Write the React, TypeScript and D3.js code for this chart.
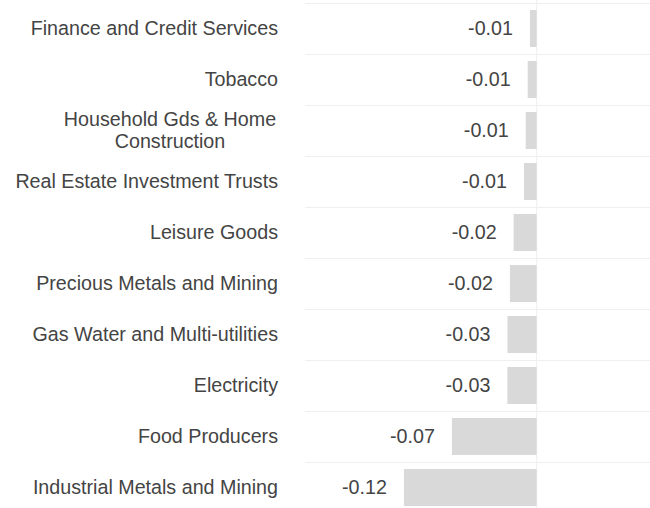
import React from "react";
import * as d3 from "d3";

const categories = [
  "Finance and Credit Services",
  "Tobacco",
  "Household Gds & Home Construction",
  "Real Estate Investment Trusts",
  "Leisure Goods",
  "Precious Metals and Mining",
  "Gas Water and Multi-utilities",
  "Electricity",
  "Food Producers",
  "Industrial Metals and Mining",
];
const values = [-0.0058, -0.0078, -0.0095, -0.011, -0.02, -0.0232, -0.0253, -0.0254, -0.0735, -0.1151];
const valueLabels = ["-0.01", "-0.01", "-0.01", "-0.01", "-0.02", "-0.02", "-0.03", "-0.03", "-0.07", "-0.12"];
const labelLines: Record<string, string[]> = {
  "Household Gds & Home Construction": ["Household Gds & Home", "Construction"],
};

const W = 650;
const H = 508;
const FONT = "'Liberation Sans', Arial, sans-serif";

export default function App() {
  const x = d3.scaleLinear().domain([-0.2, 0.1]).range([306, 652]);
  const y = d3
    .scaleBand<string>()
    .domain(categories)
    .range([3, 513])
    .paddingInner(0.275)
    .paddingOuter(0.1375);
  const step = y.step();
  const bw = y.bandwidth();
  const off = (step - bw) / 2;
  const fs = 19.7;
  return (
    <div style={{ position: "absolute", left: 0, top: 0 }}>
      <svg width={W} height={H} style={{ display: "block", fontFamily: FONT }}>
        <rect width={W} height={H} fill="#fff" />
        {categories.map((c) => (
          <line
            key={"g" + c}
            x1={305}
            x2={W}
            y1={(y(c) as number) - off + 0.5}
            y2={(y(c) as number) - off + 0.5}
            stroke="#efefef"
            strokeWidth={1}
          />
        ))}
        <line x1={x(0)} x2={x(0)} y1={0} y2={H} stroke="#efefef" strokeWidth={1} />
        {categories.map((c, i) => {
          const v = values[i];
          const yy = y(c) as number;
          const cy = yy + bw / 2;
          const lines = labelLines[c] || [c];
          const lh = 22;
          return (
            <g key={c}>
              <rect x={x(v)} y={yy} width={x(0) - x(v)} height={bw} fill="#d9d9d9" />
              <text
                x={x(v) - 17}
                y={cy}
                dy="0.35em"
                textAnchor="end"
                fontSize={fs}
                fill="#444"
              >
                {valueLabels[i]}
              </text>
              {lines.length === 1 ? (
                <text x={278} y={cy} dy="0.35em" textAnchor="end" fontSize={fs} fill="#444">
                  {c}
                </text>
              ) : (
                lines.map((l, k) => (
                  <text
                    key={k}
                    x={170}
                    y={cy + (k - (lines.length - 1) / 2) * lh}
                    dy="0.35em"
                    textAnchor="middle"
                    fontSize={fs}
                    fill="#444"
                  >
                    {l}
                  </text>
                ))
              )}
            </g>
          );
        })}
      </svg>
    </div>
  );
}
